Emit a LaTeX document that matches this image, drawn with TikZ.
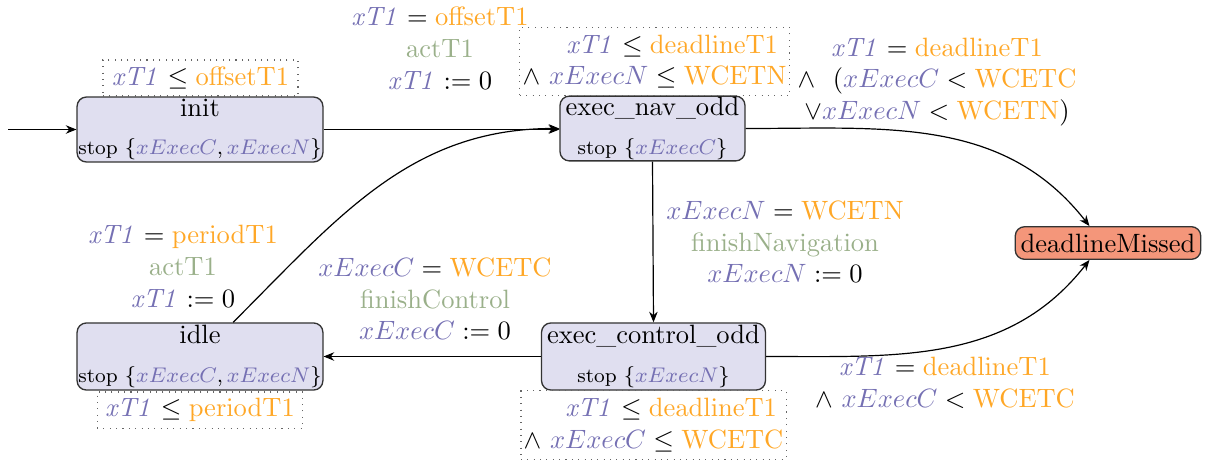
\documentclass[tikz,border=0pt]{standalone}
\usetikzlibrary{arrows.meta,calc}
\definecolor{cvar}{HTML}{7570B3}
\definecolor{cconst}{HTML}{FFA726}
\definecolor{cact}{HTML}{9AB08A}
\definecolor{cloc}{HTML}{E0DFF0}
\definecolor{cbad}{HTML}{F4967A}
\newcommand\myT{\textcolor{cvar}{\mathit{xT1}}}
\newcommand\myC{\textcolor{cvar}{xExecC}}
\newcommand\myN{\textcolor{cvar}{xExecN}}
\newcommand\myK[1]{\textcolor{cconst}{\mathrm{#1}}}
\newcommand\myA[1]{\textcolor{cact}{#1}}
\newcommand\stopfont{\fontsize{7.6}{9}\selectfont}
\tikzset{
 loc/.style={draw=black!80, fill=cloc, rounded corners=3.5pt, align=center, inner sep=0.5pt, line width=0.5pt},
 bad/.style={draw=black!80, fill=cbad, rounded corners=3.5pt, inner sep=0.5pt, line width=0.5pt},
 inv/.style={draw=black!60, dotted, inner sep=1pt, align=center},
 lbl/.style={align=center, inner sep=0pt},
 edge/.style={-{Stealth[length=4pt,width=3.2pt]}, line width=0.45pt},
}
\begin{document}
\begin{tikzpicture}[x=0.3774pt,y=0.3774pt]
\useasboundingbox (0,0) rectangle (1208,-464);
% locations
\node[loc, minimum width=92pt, minimum height=24.5pt] (init) at (200,-129.5)
  {init\\[2.5pt]\stopfont stop $\{\myC,\myN\}$};
\node[loc, minimum width=69.8pt, minimum height=23.8pt] (nav) at (652.5,-128.5)
  {exec\_nav\_odd\\[2.5pt]\stopfont stop $\{\myC\}$};
\node[loc, minimum width=84.5pt, minimum height=25.3pt] (ctl) at (653.5,-356.5)
  {exec\_control\_odd\\[2.5pt]\stopfont stop $\{\myN\}$};
\node[loc, minimum width=92pt, minimum height=25.3pt] (idle) at (200,-356.5)
  {idle\\[2.5pt]\stopfont stop $\{\myC,\myN\}$};
\node[bad, minimum width=70pt, minimum height=12.3pt] (dm) at (1108,-243) {deadlineMissed};
% invariants
\node[inv, minimum width=73.6pt, minimum height=13.6pt] (iinit) at (200.5,-78) {$\myT \le \myK{offsetT1}$};
\node[inv, minimum width=98.5pt, minimum height=26pt] (inav) at (654.5,-61.5)
  {$\phantom{\land}\ \ \myT \le \myK{deadlineT1}$\\$\land\ \myN \le \myK{WCETN}$};
\node[inv, minimum width=97.7pt, minimum height=25.7pt] (ictl) at (653.5,-425)
  {$\phantom{\land}\ \ \myT \le \myK{deadlineT1}$\\$\land\ \myC \le \myK{WCETC}$};
\node[inv, minimum width=77.7pt, minimum height=13.6pt] (iidle) at (200,-410) {$\myT \le \myK{periodT1}$};
% initial
\coordinate (start) at (8,-129.5);
\draw[edge] (start) -- (init.west);
% edges
\draw[edge] (init.east) -- (nav.west |- init.east);
\draw[edge] (nav.east) to[out=0,in=128] ([xshift=-7pt]dm.north);
\draw[edge] (ctl.east) to[out=0,in=-128] ([xshift=-7pt]dm.south);
\draw[edge] (nav.south) -- (ctl.north);
\draw[edge] (ctl.west) -- (idle.east);
\draw[edge] ([xshift=12.5pt]idle.north) to[out=45,in=180] (nav.west);
% labels
\node[lbl] (l1) at (440,-48) {$\myT = \myK{offsetT1}$\\\myA{actT1}\\$\myT \mathrel{:=} 0$};
\node[lbl] (l2) at (937,-82) {$\myT = \myK{deadlineT1}$\\$\land\ \ (\myC < \myK{WCETC}$\\$\lor \myN < \myK{WCETN})$};
\node[lbl] (l3) at (785,-242) {$\myN = \myK{WCETN}$\\\myA{finishNavigation}\\$\myN \mathrel{:=} 0$};
\node[lbl] (l4) at (945,-382.5) {$\myT = \myK{deadlineT1}$\\$\land\ \myC < \myK{WCETC}$};
\node[lbl] (l5) at (435,-299) {$\myC = \myK{WCETC}$\\\myA{finishControl}\\$\myC \mathrel{:=} 0$};
\node[lbl] (l6) at (183,-266) {$\myT = \myK{periodT1}$\\\myA{actT1}\\$\myT \mathrel{:=} 0$};
\end{tikzpicture}
\end{document}
